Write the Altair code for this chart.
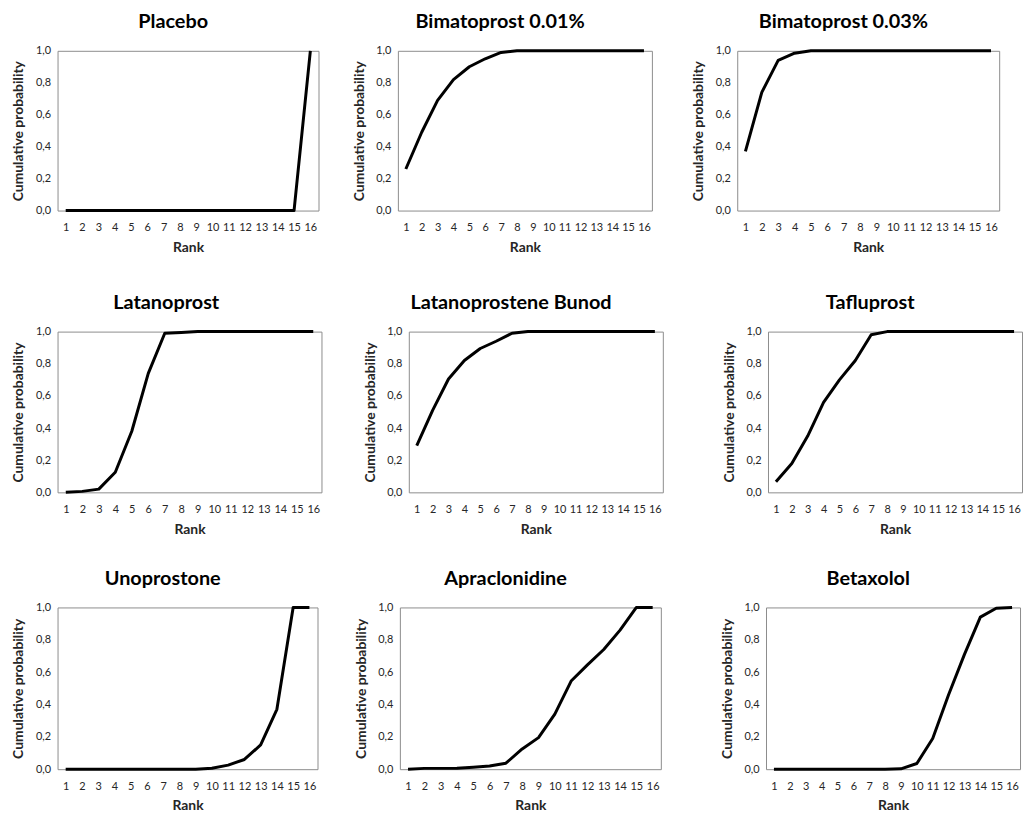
import altair as alt
import pandas as pd

ranks = list(range(1, 17))

treatments = [
    "Placebo", "Bimatoprost 0.01%", "Bimatoprost 0.03%",
    "Latanoprost", "Latanoprostene Bunod", "Tafluprost",
    "Unoprostone", "Apraclonidine", "Betaxolol",
]

placebo = [0, 0, 0, 0, 0, 0, 0, 0, 0, 0, 0, 0, 0, 0, 0, 1.0]
bimatoprost_001 = [0.26, 0.49, 0.69, 0.82, 0.90, 0.95, 0.99, 1.0, 1.0, 1.0, 1.0, 1.0, 1.0, 1.0, 1.0, 1.0]
bimatoprost_003 = [0.37, 0.74, 0.94, 0.985, 1.0, 1.0, 1.0, 1.0, 1.0, 1.0, 1.0, 1.0, 1.0, 1.0, 1.0, 1.0]
latanoprost = [0.0, 0.006, 0.02, 0.125, 0.38, 0.74, 0.99, 0.995, 1.0, 1.0, 1.0, 1.0, 1.0, 1.0, 1.0, 1.0]
latanoprostene_bunod = [0.29, 0.51, 0.705, 0.82, 0.895, 0.94, 0.99, 1.0, 1.0, 1.0, 1.0, 1.0, 1.0, 1.0, 1.0, 1.0]
tafluprost = [0.066, 0.18, 0.35, 0.56, 0.70, 0.82, 0.98, 1.0, 1.0, 1.0, 1.0, 1.0, 1.0, 1.0, 1.0, 1.0]
unoprostone = [0, 0, 0, 0, 0, 0, 0, 0, 0, 0.006, 0.025, 0.06, 0.15, 0.37, 1.0, 1.0]
apraclonidine = [0.0, 0.005, 0.005, 0.006, 0.012, 0.02, 0.037, 0.125, 0.195, 0.34, 0.545, 0.645, 0.74, 0.86, 1.0, 1.0]
betaxolol = [0, 0, 0, 0, 0, 0, 0, 0, 0.002, 0.035, 0.19, 0.46, 0.71, 0.94, 0.995, 1.0]

series = [placebo, bimatoprost_001, bimatoprost_003,
          latanoprost, latanoprostene_bunod, tafluprost,
          unoprostone, apraclonidine, betaxolol]

y_ticks = [0, 0.2, 0.4, 0.6, 0.8, 1.0]

FONT = "Lato"
X_EXT = 45


def panel(name, values, width, height, y_ext=50, title_dx=0):
    df = pd.DataFrame({"Rank": ranks, "p": values})
    return (
        alt.Chart(df)
        .mark_line(color="black", strokeWidth=3, strokeJoin="round")
        .encode(
            x=alt.X("Rank:O", scale=alt.Scale(type="point", padding=0.5),
                    axis=alt.Axis(title="Rank", labelAngle=0, ticks=False, domain=False,
                                  labelPadding=11, labelFontSize=11, labelFont=FONT,
                                  labelColor="#262626", titleFont=FONT, titleFontSize=14,
                                  titleFontWeight="bold", titleColor="#262626",
                                  titleY=37, titleBaseline="middle",
                                  minExtent=X_EXT, maxExtent=X_EXT, labelOverlap=False)),
            y=alt.Y("p:Q", scale=alt.Scale(domain=[0, 1], nice=False),
                    axis=alt.Axis(title="Cumulative probability", values=y_ticks,
                                  labelExpr="replace(format(datum.value, '.1f'), '.', ',')",
                                  grid=False, ticks=False, domain=False, labelPadding=7,
                                  labelFontSize=11, labelFont=FONT, labelColor="#262626",
                                  titleFont=FONT, titleFontSize=14, titleFontWeight="bold",
                                  titleColor="#262626", titleX=-39, titleBaseline="middle",
                                  minExtent=y_ext, maxExtent=y_ext)),
        )
        .properties(
            width=width, height=height,
            title=alt.TitleParams(name, font=FONT, fontSize=20, fontWeight="bold",
                                  color="black", frame="bounds", anchor="middle",
                                  offset=13, dx=title_dx),
        )
    )


layout = [
    dict(width=263, height=161, title_dx=10), dict(width=256, height=161), dict(width=264, height=161),
    dict(width=266, height=162, y_ext=47), dict(width=256, height=162), dict(width=256, height=162),
    dict(width=262, height=163), dict(width=263, height=163), dict(width=256, height=163),
]

p = [panel(treatments[i], series[i], **kw) for i, kw in enumerate(layout)]

row1 = alt.hconcat(p[0], alt.hconcat(p[1], p[2], spacing=34), spacing=28)
row2 = alt.hconcat(p[3], alt.hconcat(p[4], p[5], spacing=54), spacing=36)
row3 = alt.hconcat(p[6], alt.hconcat(p[7], p[8], spacing=54), spacing=31)

chart = (
    alt.vconcat(row1, alt.vconcat(row2, row3, spacing=30), spacing=36)
    .properties(padding={"left": 7, "top": 8, "right": 0, "bottom": 0}, background="white")
    .configure_view(stroke="#8c8c8c", strokeWidth=1)
)

chart.save("out.html", embed_options={"renderer": "svg", "actions": False})
